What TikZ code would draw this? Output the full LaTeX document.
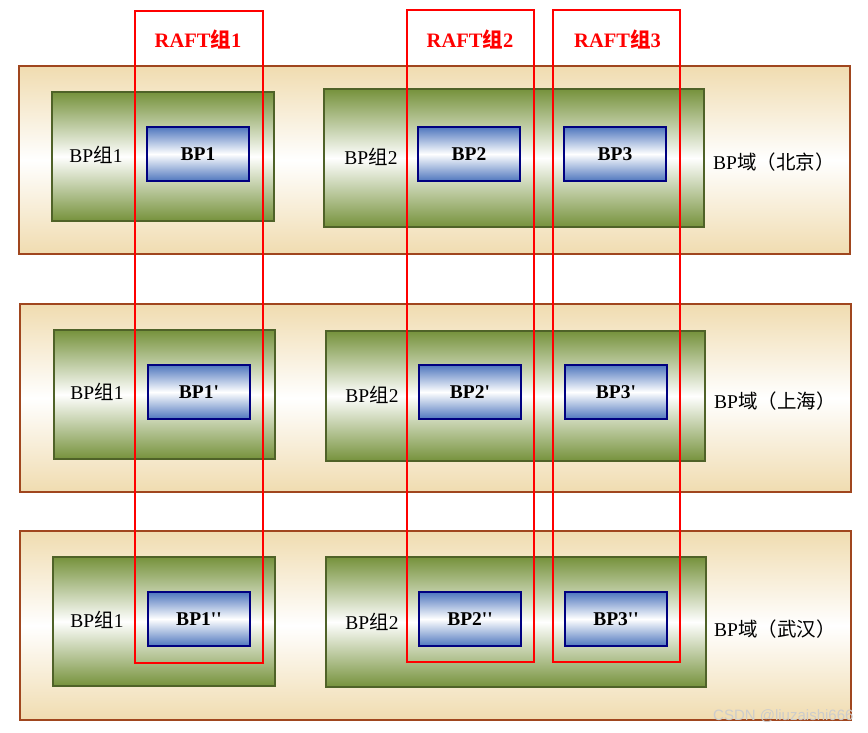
\documentclass[tikz,border=0pt]{standalone}
\usepackage{fontspec}
\setmainfont{Liberation Serif}[Ligatures=TeXOff]
\newfontfamily\cjk{Noto Sans CJK SC}
\newfontfamily\cjkb{Noto Sans CJK SC Bold}
\newfontfamily\wmfont{Liberation Sans}
\definecolor{tanc}{RGB}{240,220,176}
\definecolor{brownb}{RGB}{160,70,30}
\definecolor{greenc}{RGB}{118,146,60}
\definecolor{greenb}{RGB}{79,98,40}
\definecolor{bluec}{RGB}{79,119,190}
\definecolor{blueb}{RGB}{0,0,128}
\tikzset{
  domainbox/.style={draw=brownb, line width=1.8pt, top color=tanc, bottom color=tanc, middle color=white, inner sep=0pt},
  groupbox/.style={draw=greenb, line width=1.3pt, top color=greenc, bottom color=greenc, middle color=white, inner sep=0pt},
  bpbox/.style={draw=blueb, line width=1.8pt, top color=bluec, bottom color=bluec, middle color=white, inner sep=0pt, minimum width=102pt, minimum height=54pt, font=\fontsize{19.5}{22}\selectfont\bfseries},
  raftbox/.style={draw=red, line width=2.6pt, inner sep=0pt},
  rafttext/.style={text=red, font=\fontsize{20.5}{22}\selectfont\bfseries, inner sep=0pt},
  lbl/.style={font=\fontsize{19.5}{22}\selectfont, inner sep=0pt},
}
\begin{document}
\begin{tikzpicture}[x=1pt,y=-1pt]
\useasboundingbox (0,0) rectangle (868,732);
% domains
\node[domainbox, minimum width=831pt, minimum height=188pt] (d1) at (434.5,160) {};
\node[domainbox, minimum width=831pt, minimum height=188pt] (d2) at (435.5,398) {};
\node[domainbox, minimum width=831pt, minimum height=189pt] (d3) at (435.5,625.5) {};
% groups
\node[groupbox, minimum width=222pt, minimum height=129pt] (g11) at (163,156.5) {};
\node[groupbox, minimum width=380pt, minimum height=138pt] (g12) at (514,158) {};
\node[groupbox, minimum width=221pt, minimum height=129pt] (g21) at (164.5,394.5) {};
\node[groupbox, minimum width=379pt, minimum height=130pt] (g22) at (515.5,396) {};
\node[groupbox, minimum width=222pt, minimum height=129pt] (g31) at (164,621.5) {};
\node[groupbox, minimum width=380pt, minimum height=130pt] (g32) at (516,622) {};
% group labels
\node[lbl] (l11) at (96,155) {BP{\cjk 组}1};
\node[lbl] (l12) at (371,157) {BP{\cjk 组}2};
\node[lbl] (l21) at (97,392) {BP{\cjk 组}1};
\node[lbl] (l22) at (372,395) {BP{\cjk 组}2};
\node[lbl] (l31) at (97,620) {BP{\cjk 组}1};
\node[lbl] (l32) at (372,622) {BP{\cjk 组}2};
% domain labels
\node[lbl, anchor=west] (dl1) at (713,162) {BP{\cjk 域（北京）}};
\node[lbl, anchor=west] (dl2) at (714,401) {BP{\cjk 域（上海）}};
\node[lbl, anchor=west] (dl3) at (714,629) {BP{\cjk 域（武汉）}};
% BP boxes
\node[bpbox] (b11) at (198,154) {BP1};
\node[bpbox] (b12) at (469,154) {BP2};
\node[bpbox] (b13) at (615,154) {BP3};
\node[bpbox] (b21) at (199,392) {BP1'};
\node[bpbox] (b22) at (470,392) {BP2'};
\node[bpbox] (b23) at (616,392) {BP3'};
\node[bpbox] (b31) at (199,619) {BP1''};
\node[bpbox] (b32) at (470,619) {BP2''};
\node[bpbox] (b33) at (616,619) {BP3''};
% RAFT groups
\node[raftbox, minimum width=128pt, minimum height=652pt] (r1) at (199,337) {};
\node[raftbox, minimum width=127pt, minimum height=652pt] (r2) at (470.5,336) {};
\node[raftbox, minimum width=127pt, minimum height=652pt] (r3) at (616.5,336) {};
\node[rafttext] (rt1) at (198,39) {RAFT{\cjkb 组}1};
\node[rafttext] (rt2) at (470,39) {RAFT{\cjkb 组}2};
\node[rafttext] (rt3) at (617.5,39) {RAFT{\cjkb 组}3};
% watermark
\node[text=gray!40, font=\wmfont\fontsize{15}{17}\selectfont, anchor=west, inner sep=0pt] (wm) at (713,716) {CSDN @liuzaishi666};
\end{tikzpicture}
\end{document}
